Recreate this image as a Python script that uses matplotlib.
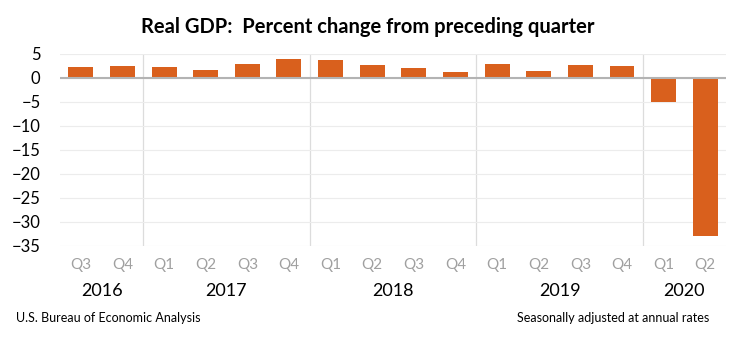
import numpy as np
import matplotlib.pyplot as plt

plt.rcParams['font.family'] = ['Lato', 'DejaVu Sans']

# Real GDP, percent change from preceding quarter (annual rate)
quarters = ['Q3', 'Q4', 'Q1', 'Q2', 'Q3', 'Q4', 'Q1', 'Q2', 'Q3', 'Q4',
            'Q1', 'Q2', 'Q3', 'Q4', 'Q1', 'Q2']
gdp_change = [2.2, 2.5, 2.3, 1.7, 2.9, 3.9, 3.8, 2.7, 2.1, 1.3,
              2.9, 1.5, 2.6, 2.4, -5.0, -32.9]
years = ['2016', '2017', '2018', '2019', '2020']
quarters_per_year = [2, 4, 4, 4, 2]

bar_color = '#D9601D'

fig = plt.figure(figsize=(7.36, 3.41), dpi=100)
ax = fig.add_axes([0.0815, 0.279, 0.905, 0.563])

x = np.arange(len(gdp_change))
ax.bar(x, gdp_change, width=0.6, color=bar_color, zorder=3)

ax.set_xlim(-0.5, len(gdp_change) - 0.5)
ax.set_ylim(-35, 5)
ax.set_yticks(np.arange(-35, 6, 5))
ax.tick_params(axis='y', length=0, labelsize=12, pad=14)
ax.grid(axis='y', color='#ececec', linewidth=0.8, zorder=0)
ax.axhline(0, color='#b3b3b3', linewidth=1.5, zorder=4)
for s in ax.spines.values():
    s.set_visible(False)

ax.set_xticks(x)
ax.set_xticklabels(quarters, color='#a0a0a0', fontsize=11)
ax.tick_params(axis='x', length=0, pad=9)

# year separators and labels
start = 0
for yr, n in zip(years, quarters_per_year):
    if start > 0:
        ax.axvline(start - 0.5, color='#dcdcdc', linewidth=0.9, zorder=1)
    center = start + (n - 1) / 2
    ax.text(center, -44.5, yr, ha='center', va='center', fontsize=13,
            transform=ax.transData, clip_on=False)
    start += n

fig.text(0.5, 0.92, 'Real GDP:  Percent change from preceding quarter',
         ha='center', va='center', fontsize=14.5, fontweight='bold')
fig.text(0.022, 0.068, 'U.S. Bureau of Economic Analysis', ha='left',
         va='center', fontsize=9)
fig.text(0.963, 0.068, 'Seasonally adjusted at annual rates', ha='right',
         va='center', fontsize=9)

fig.savefig('out.png', dpi=100)
